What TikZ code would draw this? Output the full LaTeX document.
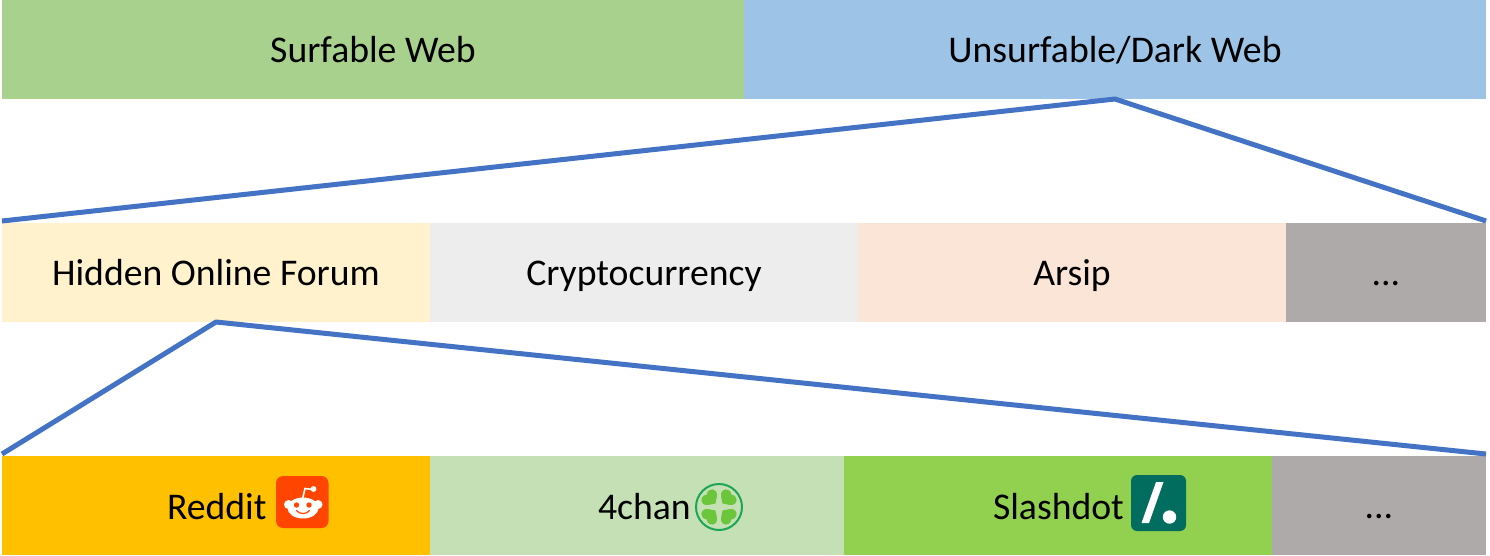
\documentclass[tikz,border=0pt]{standalone}
\usepackage{fontspec}
\setmainfont{Carlito}
\definecolor{cSurf}{HTML}{A9D18E}
\definecolor{cDark}{HTML}{9DC3E6}
\definecolor{cHid}{HTML}{FFF2CC}
\definecolor{cCry}{HTML}{EDEDED}
\definecolor{cArs}{HTML}{FBE5D6}
\definecolor{cGry}{HTML}{AEAAAA}
\definecolor{cRed}{HTML}{FFC000}
\definecolor{cFour}{HTML}{C5E0B4}
\definecolor{cSla}{HTML}{92D050}
\definecolor{cLine}{HTML}{4472C4}
\definecolor{cOrange}{HTML}{FF4500}
\definecolor{cRing}{HTML}{1BA652}
\definecolor{cLeaf}{HTML}{6CC63C}
\definecolor{cTeal}{HTML}{006D5F}
\tikzset{
  x=1pt,y=-1pt,
  barbox/.style={rectangle,draw=none,inner sep=0pt,outer sep=0pt,minimum height=99pt,
    text height=32pt,text depth=7pt,font=\fontsize{37.7}{44}\selectfont,text=black,anchor=north west},
  labeltext/.style={inner sep=0pt,outer sep=0pt,text height=32pt,text depth=7pt,
    font=\fontsize{37.7}{44}\selectfont,text=black,anchor=west},
  zoomline/.style={draw=cLine,line width=5pt,line join=round,line cap=butt}
}
\begin{document}
\begin{tikzpicture}
\useasboundingbox[fill=white] (0,0) rectangle (1490,555);
% top row
\node[barbox,fill=cSurf,minimum width=742pt] (surf) at (2,0) {Surfable Web};
\node[barbox,fill=cDark,minimum width=742pt] (dark) at (744,0) {Unsurfable/Dark Web};
% middle row
\node[barbox,fill=cHid,minimum width=428pt] (hid) at (2,223) {Hidden Online Forum};
\node[barbox,fill=cCry,minimum width=428pt] (cry) at (430,223) {Cryptocurrency};
\node[barbox,fill=cArs,minimum width=428pt] (ars) at (858,223) {Arsip};
\node[barbox,fill=cGry,minimum width=200pt] (mid) at (1286,223) {...};
% bottom row
\node[barbox,fill=cRed,minimum width=428pt] (red) at (2,456) {};
\node[barbox,fill=cFour,minimum width=414pt] (four) at (430,456) {};
\node[barbox,fill=cSla,minimum width=428pt] (sla) at (844,456) {};
\node[barbox,fill=cGry,minimum width=214pt] (bot) at (1272,456) {...};
\node[labeltext] (redt) at (167,506.5) {Reddit};
\node[labeltext] (fourt) at (598,506.5) {4chan};
\node[labeltext] (slat) at (993,506.5) {Slashdot};
% connectors
\draw[zoomline] ([yshift=2pt]hid.north west) -- (dark.south) -- ([yshift=2pt]mid.north east);
\draw[zoomline] ([yshift=2pt]red.north west) -- (hid.south) -- ([yshift=2pt]bot.north east);
% Reddit icon
\fill[cOrange,rounded corners=7pt] (276,476) rectangle (328.5,528);
\draw[white,line width=1.6pt] (302.5,499) -- (305,488.5) -- (313,489.5);
\fill[white] (313.5,489) circle (2.9);
\fill[white] (303,508) ellipse (15.5 and 10.5);
\fill[white] (288.5,504.5) circle (4.5);
\fill[white] (318,504.5) circle (4.5);
\fill[cOrange] (296.5,505) circle (2.7);
\fill[cOrange] (309,505) circle (2.7);
\draw[cOrange,line width=1.2pt,line cap=round] (296.5,510.5) .. controls (299,514.5) and (307,514.5) .. (309.5,510.5);
% 4chan icon
\draw[cRing,line width=2pt] (719,507) circle (23);
\foreach \a in {45,135,225,315}{
  \fill[cLeaf,shift={(719,507)},rotate=\a]
    (5,0) .. controls (8,-4) and (9.5,-9) .. (14,-9)
    .. controls (18.5,-9) and (20.5,-3) .. (17.5,0)
    .. controls (20.5,3) and (18.5,9) .. (14,9)
    .. controls (9.5,9) and (8,4) .. (5,0) -- cycle;
}
% Slashdot icon
\fill[cTeal,rounded corners=6pt] (1131,475) rectangle (1186,531);
\fill[white] (1156,482) -- (1163.5,482) -- (1149,523) -- (1141.5,523) -- cycle;
\fill[white] (1169.5,517) circle (6.7);
\end{tikzpicture}
\end{document}
